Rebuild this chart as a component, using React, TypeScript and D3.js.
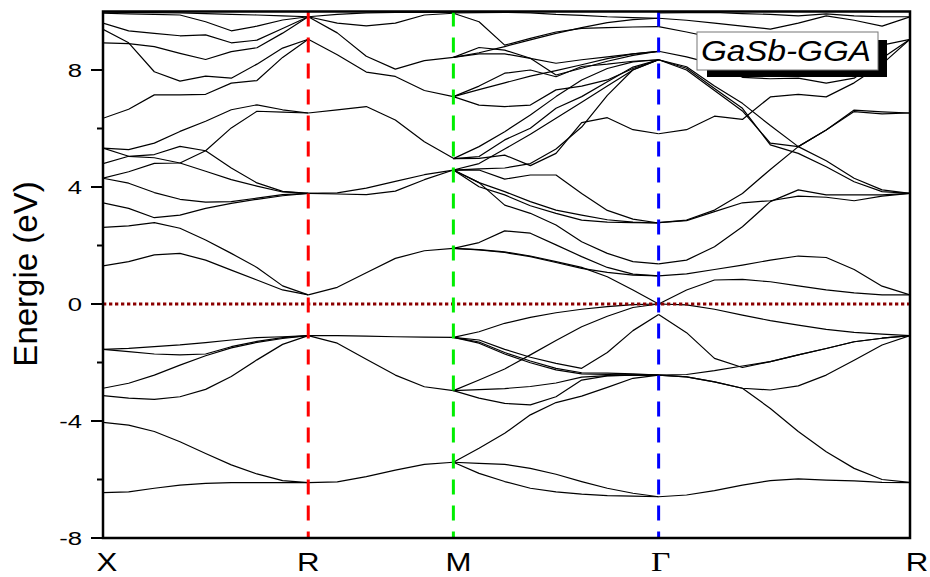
import React from "react";
import * as d3 from "d3";

// high-symmetry points along the simple-cubic path X-R-M-Γ-R
const symLabels = ["X", "R", "M", "Γ", "R"];
const symK = [0, 0.7071, 1.2071, 1.9142, 2.7802];
const symColors = [null, "#ff0000", "#00ee00", "#0000ff", null];
const labelNudge = [4, 0, 5, 2, 7];
const segSteps = [8, 5, 8, 9];

const yTicks = [-8, -4, 0, 4, 8];
const yMinorTicks = [-6, -2, 2, 6];

// X -> R (9 k-points)
const valXR = [
  [-6.45, -6.42, -6.3, -6.19, -6.13, -6.11, -6.11, -6.11, -6.11],
  [-4.05, -4.14, -4.36, -4.71, -5.11, -5.5, -5.81, -6.04, -6.11],
  [-3.13, -3.22, -3.26, -3.17, -2.92, -2.48, -1.91, -1.38, -1.08],
  [-2.88, -2.71, -2.43, -2.09, -1.77, -1.5, -1.31, -1.18, -1.08],
  [-1.55, -1.63, -1.71, -1.74, -1.71, -1.46, -1.28, -1.15, -1.08],
  [-1.55, -1.52, -1.46, -1.4, -1.32, -1.23, -1.15, -1.12, -1.08],
];
const condXR = [
  [1.3, 1.45, 1.68, 1.73, 1.5, 1.16, 0.82, 0.48, 0.31],
  [2.62, 2.67, 2.78, 2.59, 2.19, 1.73, 1.25, 0.62, 0.31],
  [3.46, 3.27, 2.95, 3.04, 3.27, 3.44, 3.58, 3.7, 3.78],
  [4.3, 4.13, 3.81, 3.58, 3.48, 3.5, 3.62, 3.74, 3.78],
  [4.3, 4.52, 4.81, 4.82, 5.24, 6.02, 6.59, 6.56, 6.53],
  [4.8, 5.05, 5.11, 5.39, 5.24, 4.65, 4.14, 3.85, 3.78],
  [5.33, 5.28, 5.5, 5.9, 6.25, 6.64, 6.81, 6.64, 6.53],
  [5.33, 5.05, 5.0, 4.82, 4.54, 4.25, 4.03, 3.83, 3.78],
  [6.35, 6.66, 7.15, 7.15, 7.17, 7.55, 7.64, 8.43, 9.05],
  [9.39, 8.93, 7.94, 7.62, 7.79, 7.72, 8.2, 8.75, 9.05],
  [8.93, 8.9, 8.8, 8.57, 8.36, 8.63, 8.76, 9.26, 9.82],
  [9.6, 9.34, 9.25, 9.17, 9.2, 8.93, 9.02, 9.42, 9.82],
  [9.94, 9.92, 9.9, 9.88, 9.65, 9.34, 9.5, 9.71, 9.82],
  [9.98, 9.97, 9.96, 9.95, 9.93, 9.9, 9.88, 9.85, 9.82],
];

// R -> M (6 k-points)
const valRM = [
  [-6.11, -6.08, -5.9, -5.68, -5.48, -5.41],
  [-1.08, -1.34, -1.89, -2.43, -2.83, -2.96],
  [-1.08, -1.08, -1.1, -1.12, -1.13, -1.14],
];
const condRM = [
  [0.31, 0.57, 1.07, 1.56, 1.82, 1.9],
  [3.78, 3.8, 3.96, 4.19, 4.42, 4.58],
  [3.78, 3.76, 3.74, 3.86, 4.25, 4.58],
  [6.53, 6.64, 6.75, 6.29, 5.55, 4.98],
  [9.05, 8.52, 7.93, 7.78, 7.3, 7.09],
  [9.82, 9.27, 8.47, 8.03, 8.32, 8.43],
  [9.82, 9.6, 9.51, 9.6, 9.88, 9.94],
  [9.82, 9.9, 9.95, 9.97, 9.97, 9.97],
];

// M -> Γ (9 k-points)
const valMG = [
  [-5.41, -5.45, -5.48, -5.62, -5.82, -6.07, -6.3, -6.47, -6.59],
  [-5.41, -5.79, -6.07, -6.3, -6.42, -6.5, -6.55, -6.57, -6.59],
  [-5.41, -4.93, -4.42, -3.79, -3.37, -3.15, -2.85, -2.54, -2.43],
  [-2.96, -2.93, -2.89, -2.82, -2.7, -2.5, -2.45, -2.43, -2.43],
  [-2.96, -3.22, -3.4, -3.45, -3.17, -2.6, -2.46, -2.43, -2.43],
  [-2.96, -2.6, -2.22, -1.74, -1.25, -0.78, -0.42, -0.12, 0],
  [-1.14, -0.95, -0.66, -0.46, -0.3, -0.18, -0.09, -0.02, 0],
  [-1.14, -1.3, -1.66, -1.95, -2.2, -2.35, -2.36, -2.39, -2.43],
  [-1.14, -1.34, -1.71, -2.01, -2.25, -2.39, -2.41, -2.42, -2.43],
  [-1.14, -1.23, -1.55, -1.82, -2.03, -2.2, -1.66, -0.91, -0.36],
];
const condMG = [
  [1.9, 1.86, 1.78, 1.64, 1.45, 1.25, 0.93, 0.48, 0.0],
  [1.9, 1.85, 1.76, 1.62, 1.42, 1.22, 1.08, 0.99, 0.96],
  [1.9, 2.1, 2.5, 2.42, 2.02, 1.62, 1.25, 1.02, 0.96],
  [4.58, 4.15, 3.38, 3.1, 2.7, 2.13, 1.73, 1.45, 1.37],
  [4.58, 4.15, 3.84, 3.5, 3.21, 3.04, 2.88, 2.8, 2.77],
  [4.58, 4.01, 3.73, 3.36, 3.1, 2.87, 2.8, 2.78, 2.77],
  [4.58, 4.58, 4.27, 4.41, 4.41, 3.78, 3.2, 2.9, 2.77],
  [4.58, 4.8, 5.3, 5.8, 6.35, 6.9, 7.45, 8.0, 8.35],
  [4.97, 5.38, 5.89, 6.46, 7.09, 7.66, 8.05, 8.28, 8.35],
  [4.97, 5.04, 5.61, 6.01, 6.69, 7.09, 7.6, 8.1, 8.35],
  [4.97, 4.98, 5.09, 4.73, 5.15, 6.2, 6.37, 5.96, 5.82],
  [4.58, 4.62, 4.65, 4.8, 5.3, 6.05, 7.13, 8.01, 8.35],
  [7.09, 7.33, 7.56, 7.79, 7.98, 8.18, 8.39, 8.55, 8.64],
  [7.09, 6.8, 6.75, 6.8, 7.32, 7.45, 7.66, 8.05, 8.35],
  [7.09, 7.45, 7.89, 8.0, 7.77, 8.12, 8.2, 8.3, 8.35],
  [8.43, 8.77, 8.68, 8.4, 7.83, 8.06, 8.3, 8.5, 8.64],
  [8.43, 8.55, 8.55, 8.4, 8.23, 8.35, 8.45, 8.55, 8.64],
  [8.43, 8.59, 8.8, 9.03, 9.25, 9.45, 9.62, 9.72, 9.77],
  [9.94, 9.65, 8.85, 9.08, 9.3, 9.42, 9.45, 9.47, 9.48],
  [9.95, 9.96, 9.97, 9.95, 9.9, 9.87, 9.82, 9.79, 9.77],
];

// Γ -> R (10 k-points)
const valGR = [
  [0, -0.03, -0.18, -0.38, -0.57, -0.72, -0.87, -0.97, -1.03, -1.08],
  [-0.36, -0.98, -1.86, -2.17, -1.97, -1.74, -1.52, -1.29, -1.17, -1.08],
  [-2.43, -2.41, -2.28, -2.12, -1.97, -1.74, -1.52, -1.29, -1.17, -1.08],
  [-2.43, -2.49, -2.66, -2.88, -2.94, -2.8, -2.43, -1.92, -1.4, -1.08],
  [-2.43, -2.49, -2.66, -2.88, -3.57, -4.36, -5.05, -5.62, -6.0, -6.1],
  [-6.59, -6.53, -6.38, -6.19, -6.04, -5.98, -6.02, -6.05, -6.1, -6.11],
];
const condGR = [
  [0.0, 0.48, 0.82, 0.84, 0.76, 0.62, 0.48, 0.38, 0.31, 0.31],
  [0.96, 1.03, 1.18, 1.33, 1.5, 1.64, 1.59, 1.18, 0.61, 0.31],
  [1.37, 1.5, 1.96, 2.64, 3.5, 3.9, 3.73, 3.73, 3.73, 3.78],
  [2.78, 2.85, 3.16, 3.46, 3.53, 3.69, 3.65, 3.53, 3.69, 3.78],
  [2.78, 2.87, 3.21, 3.78, 4.6, 5.38, 5.95, 6.63, 6.57, 6.53],
  [8.35, 8.06, 7.37, 6.69, 5.44, 5.15, 4.69, 4.18, 3.84, 3.78],
  [8.35, 8.11, 7.45, 6.86, 6.1, 5.38, 5.95, 6.58, 6.5, 6.53],
  [8.35, 8.0, 7.3, 6.6, 5.5, 5.38, 4.9, 4.3, 3.9, 3.78],
  [5.82, 5.96, 6.42, 6.31, 7.08, 7.17, 7.08, 7.56, 8.2, 9.05],
  [8.64, 8.45, 8.2, 7.75, 7.7, 7.72, 7.55, 7.72, 8.4, 9.05],
  [9.77, 9.7, 9.6, 9.5, 9.4, 9.6, 9.85, 9.7, 9.5, 9.82],
  [9.48, 9.3, 9.1, 8.9, 8.8, 8.85, 9.1, 9.0, 8.85, 9.05],
  [9.95, 9.96, 9.97, 9.93, 9.9, 9.85, 9.92, 9.85, 9.82, 9.82],
];

const segBands = [
  [...valXR, ...condXR],
  [...valRM, ...condRM],
  [...valMG, ...condMG],
  [...valGR, ...condGR],
];

const width = 930;
const height = 577;
const margin = { top: 11.5, right: 20, bottom: 39, left: 103 };
const font = "'Liberation Sans', Arial, sans-serif";

export default function App() {
  const x = d3.scaleLinear().domain([0, symK[4]]).range([margin.left, width - margin.right]);
  const y = d3.scaleLinear().domain([-8, 10]).range([height - margin.bottom, margin.top]);
  const [x0, x1] = x.range();
  const [yb, yt] = y.range();

  const line = d3
    .line<[number, number]>()
    .x(d => x(d[0]))
    .y(d => y(d[1]));

  // band paths, segment by segment
  const paths: string[] = [];
  segBands.forEach((bands, s) => {
    const k0 = symK[s];
    const k1 = symK[s + 1];
    const n = segSteps[s];
    const ks = d3.range(n + 1).map(i => k0 + ((k1 - k0) * i) / n);
    bands.forEach(b => {
      paths.push(line(b.map((e, i) => [ks[i], e] as [number, number])) || "");
    });
  });

  return (
    <div style={{ position: "absolute", left: 0, top: 0 }}>
      <svg width={width} height={height} style={{ display: "block", background: "#fff" }}>
        <defs>
          <clipPath id="plot">
            <rect x={x0} y={yt} width={x1 - x0} height={yb - yt} />
          </clipPath>
        </defs>

        {/* Bands */}
        <g clipPath="url(#plot)" fill="none" stroke="#000" strokeWidth={1.2} strokeLinejoin="round">
          {paths.map((d, i) => (
            <path key={i} d={d} />
          ))}
        </g>

        {/* Fermi level */}
        <line
          x1={x0}
          x2={x1}
          y1={y(0)}
          y2={y(0)}
          stroke="#8b0000"
          strokeWidth={2.8}
          strokeDasharray="3.3,2.7"
        />

        {/* High-symmetry lines */}
        {symK.map((k, i) =>
          symColors[i] ? (
            <line
              key={i}
              x1={x(k)}
              x2={x(k)}
              y1={yt}
              y2={yb}
              stroke={symColors[i] as string}
              strokeWidth={3}
              strokeDasharray="15,11"
            />
          ) : null
        )}

        {/* Frame */}
        <rect x={x0} y={yt} width={x1 - x0} height={yb - yt} fill="none" stroke="#000" strokeWidth={2.5} />

        {/* Y ticks */}
        {yTicks.map(t => (
          <g key={t}>
            <line x1={x0 - 12} x2={x0} y1={y(t)} y2={y(t)} stroke="#000" strokeWidth={2} />
            <text
              transform={`translate(${x0 - 21},${y(t) + 7}) scale(1.35,1)`}
              textAnchor="end"
              fontFamily={font}
              fontSize={19}
              fill="#000"
            >
              {t}
            </text>
          </g>
        ))}
        {yMinorTicks.map(t => (
          <line key={t} x1={x0 - 6} x2={x0} y1={y(t)} y2={y(t)} stroke="#000" strokeWidth={2} />
        ))}

        {/* Y title */}
        <text
          transform={`translate(37,274) rotate(-90)`}
          textAnchor="middle"
          fontFamily={font}
          fontSize={33}
          fill="#000"
        >
          Energie (eV)
        </text>

        {/* K labels */}
        {symLabels.map((l, i) => (
          <text
            key={i}
            transform={`translate(${x(symK[i]) + labelNudge[i]},571) scale(1.2,1)`}
            textAnchor="middle"
            fontFamily={l === "Γ" ? "'Liberation Serif', 'Times New Roman', serif" : font}
            fontSize={l === "Γ" ? 28 : 26}
            fill="#000"
          >
            {l}
          </text>
        ))}

        {/* Legend box */}
        <rect x={707} y={40} width={180} height={37} fill="#000" />
        <rect x={697} y={32} width={181} height={38} fill="#fff" stroke="#777" strokeWidth={1} />
        <text
          x={701}
          y={61}
          fontFamily={font}
          fontStyle="italic"
          fontSize={30}
          textLength={170}
          lengthAdjust="spacingAndGlyphs"
          fill="#000"
        >
          GaSb-GGA
        </text>
      </svg>
    </div>
  );
}
